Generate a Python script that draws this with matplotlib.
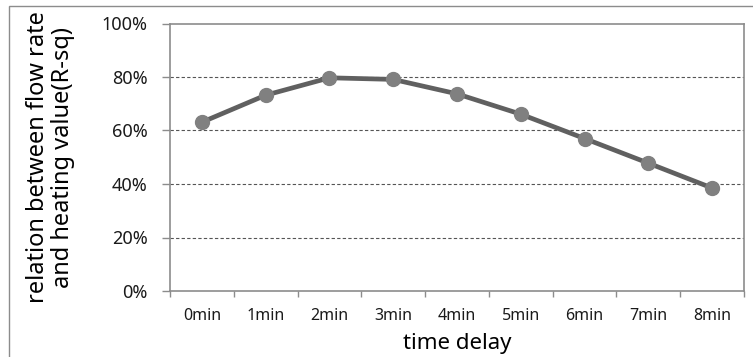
import matplotlib
matplotlib.use("Agg")
import matplotlib.pyplot as plt
from matplotlib.patches import Rectangle
from matplotlib.ticker import FixedLocator, PercentFormatter

categories = ["0min", "1min", "2min", "3min", "4min", "5min", "6min", "7min", "8min"]
r_sq = [63.1, 73.2, 79.7, 79.1, 73.7, 66.1, 57.0, 47.8, 38.5]
y_ticks = [0, 20, 40, 60, 80, 100]

plt.rcParams['font.family'] = ['Noto Sans', 'DejaVu Sans']

fig = plt.figure(figsize=(7.53, 3.57), dpi=100)
ax = fig.add_axes([170 / 753, 1 - 291 / 357, 574 / 753, 267.5 / 357])

# outer chart frame
fig.patches.append(Rectangle((8.5 / 753, -0.05), 1.2, 1 - 5.5 / 357 + 0.05,
                             transform=fig.transFigure, fill=False,
                             edgecolor="#8c8c8c", linewidth=1.0))

x = list(range(len(categories)))
ax.plot(x, r_sq, color="#606060", linewidth=3.4, marker="o",
        markersize=10, markerfacecolor="#808080", markeredgecolor="#808080",
        zorder=3)

ax.set_xlim(-0.5, len(categories) - 0.5)
ax.set_ylim(0, 100)
ax.set_xticks(x)
ax.set_xticklabels(categories, fontsize=11.5, color="#1a1a1a")
ax.xaxis.set_minor_locator(FixedLocator([i - 0.5 for i in range(len(categories) + 1)]))
ax.tick_params(axis="x", which="major", length=0, pad=12)
ax.tick_params(axis="x", which="minor", length=4, color="#8c8c8c", width=1)

ax.set_yticks(y_ticks)
ax.yaxis.set_major_formatter(PercentFormatter(decimals=0))
ax.tick_params(axis="y", length=6, color="#8c8c8c", width=1, labelsize=13,
               labelcolor="#1a1a1a", pad=10)

for v in y_ticks[1:-1]:
    ax.axhline(v, color="#555555", linewidth=0.8, linestyle=(0, (3, 2)), zorder=1)

for s in ax.spines.values():
    s.set_color("#8c8c8c")
    s.set_linewidth(1.2)

ax.set_xlabel("time delay", fontsize=16, color="#000000", labelpad=7)
ax.set_ylabel("relation between flow rate\nand heating value(R-sq)", fontsize=17,
              color="#000000", labelpad=19, linespacing=1.05)

fig.savefig("out.png", dpi=100)
